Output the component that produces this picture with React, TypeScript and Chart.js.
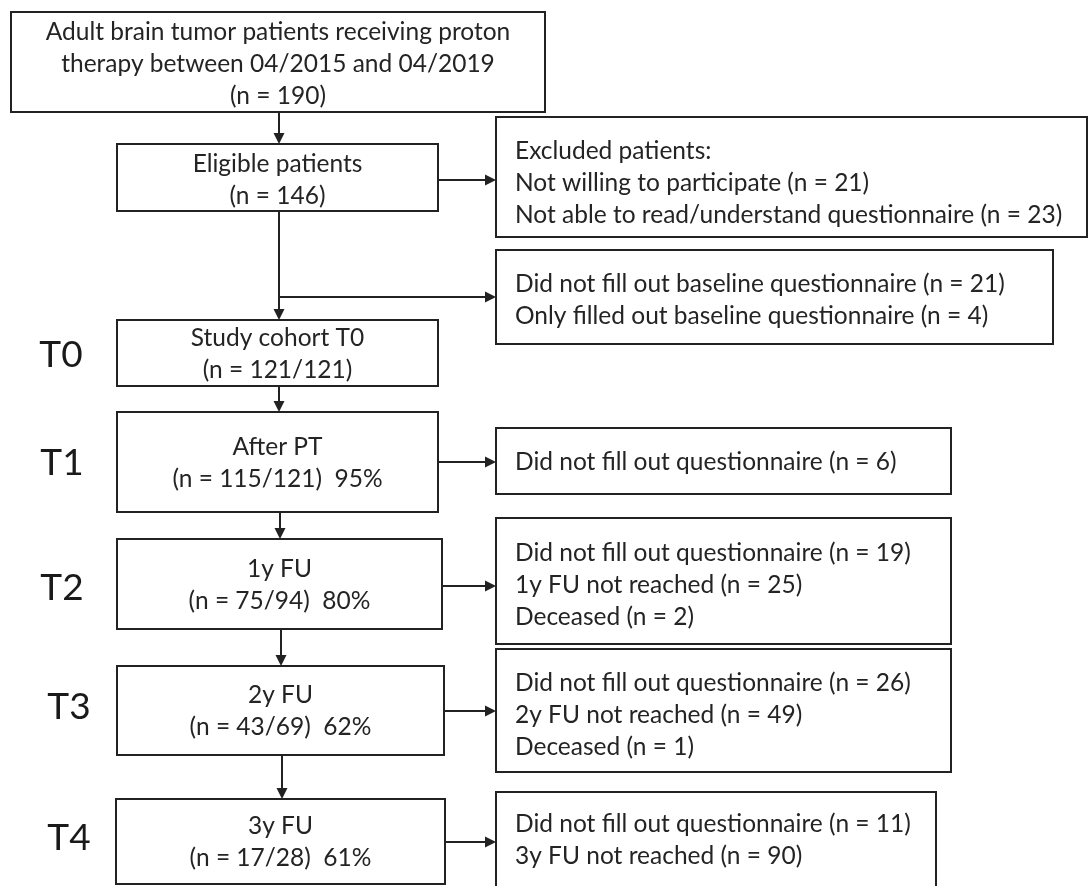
import React, { useEffect, useRef } from "react";
import { Chart, registerables } from "chart.js";

Chart.register(...registerables);

// ---- canvas coordinate system (data units) ----
const SPACE_W = 1089;
const SPACE_H = 886;

// ---- texts ----
const mainTexts: string[][] = [
  ["Adult brain tumor patients receiving proton", "therapy between 04/2015 and 04/2019", "(n = 190)"],
  ["Eligible patients", "(n = 146)"],
  ["Study cohort T0", "(n = 121/121)"],
  ["After PT", "(n = 115/121)  95%"],
  ["1y FU", "(n = 75/94)  80%"],
  ["2y FU", "(n = 43/69)  62%"],
  ["3y FU", "(n = 17/28)  61%"],
];

const sideTexts: string[][] = [
  ["Excluded patients:", "Not willing to participate (n = 21)", "Not able to read/understand questionnaire (n = 23)"],
  ["Did not fill out baseline questionnaire (n = 21)", "Only filled out baseline questionnaire (n = 4)"],
  ["Did not fill out questionnaire (n = 6)"],
  ["Did not fill out questionnaire (n = 19)", "1y FU not reached (n = 25)", "Deceased (n = 2)"],
  ["Did not fill out questionnaire (n = 26)", "2y FU not reached (n = 49)", "Deceased (n = 1)"],
  ["Did not fill out questionnaire (n = 11)", "3y FU not reached (n = 90)"],
];

const stageLabels = ["T0", "T1", "T2", "T3", "T4"];

// ---- layout (data units): [x1, y1, x2, y2, textCenterY] ----
const mainBoxes: number[][] = [
  [11, 12, 545, 112, 64],
  [117, 144, 438, 211, 180],
  [117, 320, 438, 386, 354],
  [117, 412, 438, 512, 463],
  [117, 539, 442, 629, 585],
  [117, 666, 444, 755, 711],
  [116, 799, 445, 884, 842],
];

const sideBoxes: number[][] = [
  [496, 117, 1087, 237, 183],
  [496, 250, 1053, 344, 300],
  [496, 428, 951, 494, 462],
  [496, 518, 951, 644, 585],
  [496, 649, 951, 772, 715],
  [496, 792, 936, 900, 840],
];

const stageLabelPos: number[][] = [
  [61, 355],
  [62, 463],
  [62, 588],
  [69, 707],
  [69, 838],
];

// arrows: [x1, y1, x2, y2]  (head at x2,y2)
const arrows: number[][] = [
  [279, 112, 279, 144],
  [438, 180, 496, 180],
  [279, 211, 279, 320],
  [279, 297, 496, 297],
  [279, 386, 279, 412],
  [438, 462, 496, 462],
  [280, 512, 280, 539],
  [442, 586, 496, 586],
  [281, 629, 281, 666],
  [444, 711, 496, 711],
  [282, 755, 282, 799],
  [445, 842, 496, 842],
];

const LINE_H = 32;
const FONT_FAMILY = 'Lato, "Open Sans", "DejaVu Sans", sans-serif';
const TEXT_COLOR = "#242424";
const LINE_COLOR = "#222222";

const flowPlugin = {
  id: "flowchart",
  afterDraw(chart: any) {
    const ctx: CanvasRenderingContext2D = chart.ctx;
    const xs = chart.scales.x;
    const ys = chart.scales.y;
    const px = (v: number) => xs.getPixelForValue(v);
    const py = (v: number) => ys.getPixelForValue(v);

    ctx.save();
    ctx.fillStyle = "#ffffff";
    ctx.fillRect(0, 0, chart.width, chart.height);

    ctx.strokeStyle = LINE_COLOR;
    ctx.lineWidth = 2;

    const drawBox = (b: number[]) => {
      const x1 = px(b[0]), y1 = py(b[1]), x2 = px(b[2]), y2 = py(b[3]);
      ctx.strokeRect(x1, y1, x2 - x1, y2 - y1);
    };

    ctx.font = `24.5px ${FONT_FAMILY}`;
    ctx.fillStyle = TEXT_COLOR;
    ctx.textBaseline = "middle";

    mainBoxes.forEach((b, i) => {
      drawBox(b);
      const lines = mainTexts[i];
      const cx = px((b[0] + b[2]) / 2);
      const cy = py(b[4]);
      ctx.textAlign = "center";
      lines.forEach((t, j) => {
        const y = cy + (j - (lines.length - 1) / 2) * LINE_H;
        ctx.fillText(t, cx, y);
      });
    });

    sideBoxes.forEach((b, i) => {
      drawBox(b);
      const lines = sideTexts[i];
      const lx = px(b[0] + 19);
      const cy = py(b[4]);
      ctx.textAlign = "left";
      lines.forEach((t, j) => {
        const y = cy + (j - (lines.length - 1) / 2) * LINE_H;
        ctx.fillText(t, lx, y);
      });
    });

    // arrows
    const headLen = 11;
    const headHalf = 5.5;
    arrows.forEach((a) => {
      const x1 = px(a[0]), y1 = py(a[1]), x2 = px(a[2]), y2 = py(a[3]);
      const ang = Math.atan2(y2 - y1, x2 - x1);
      const bx = x2 - Math.cos(ang) * headLen;
      const by = y2 - Math.sin(ang) * headLen;
      ctx.beginPath();
      ctx.moveTo(x1, y1);
      ctx.lineTo(bx, by);
      ctx.stroke();
      ctx.beginPath();
      ctx.moveTo(x2, y2);
      ctx.lineTo(bx + Math.sin(ang) * headHalf, by - Math.cos(ang) * headHalf);
      ctx.lineTo(bx - Math.sin(ang) * headHalf, by + Math.cos(ang) * headHalf);
      ctx.closePath();
      ctx.fillStyle = LINE_COLOR;
      ctx.fill();
    });

    // stage labels
    ctx.font = `37px ${FONT_FAMILY}`;
    ctx.fillStyle = "#1a1a1a";
    ctx.textAlign = "center";
    stageLabels.forEach((t, i) => {
      ctx.fillText(t, px(stageLabelPos[i][0]), py(stageLabelPos[i][1]));
    });

    ctx.restore();
  },
};

export default function App() {
  const canvasRef = useRef<HTMLCanvasElement | null>(null);

  useEffect(() => {
    if (!canvasRef.current) return;
    const chart = new Chart(canvasRef.current, {
      type: "scatter",
      data: { datasets: [{ data: [], pointRadius: 0 }] },
      options: {
        animation: false,
        responsive: true,
        maintainAspectRatio: false,
        layout: { padding: 0 },
        events: [],
        plugins: { legend: { display: false }, tooltip: { enabled: false } },
        scales: {
          x: { type: "linear", min: 0, max: SPACE_W, display: false },
          y: { type: "linear", min: 0, max: SPACE_H, reverse: true, display: false },
        },
      },
      plugins: [flowPlugin],
    } as any);
    return () => chart.destroy();
  }, []);

  return (
    <div
      style={{
        position: "fixed",
        left: 0,
        top: 0,
        width: SPACE_W,
        height: SPACE_H,
        background: "#ffffff",
      }}
    >
      <canvas ref={canvasRef} />
    </div>
  );
}
